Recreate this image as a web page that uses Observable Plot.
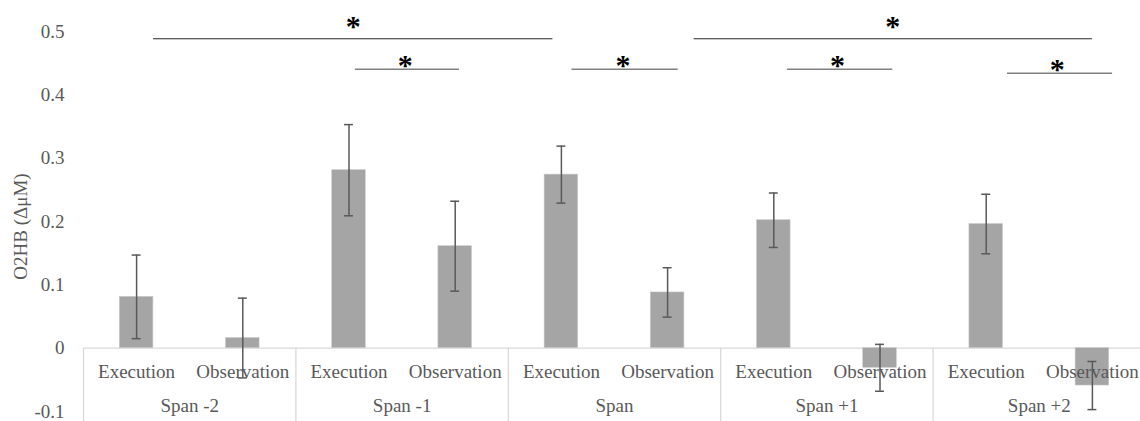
<!DOCTYPE html>
<html>
<head>
<meta charset="utf-8">
<script src="https://cdn.jsdelivr.net/npm/d3@7"></script>
<script src="https://cdn.jsdelivr.net/npm/@observablehq/plot@0.6"></script>
<style>
  html, body { margin: 0; padding: 0; background: #fff; }
  #chart svg { display: block; font-family: "Liberation Serif", "Times New Roman", serif !important; }
  #chart svg text { font-family: "Liberation Serif", "Times New Roman", serif; }
  #chart svg text.star { font-family: "DejaVu Sans", sans-serif; }
</style>
</head>
<body>
<div id="chart"></div>
<script>
// ---- data ----
const spans = ["Span -2", "Span -1", "Span", "Span +1", "Span +2"];
const conditions = ["Execution", "Observation"];
const execMean = [0.081, 0.281, 0.274, 0.202, 0.196];
const execErr  = [0.066, 0.072, 0.045, 0.043, 0.047];
const obsMean  = [0.016, 0.161, 0.088, -0.031, -0.059];
const obsErr   = [0.063, 0.071, 0.039, 0.037, 0.038];
const yTicks = [-0.1, 0, 0.1, 0.2, 0.3, 0.4, 0.5];
const yTickLabels = ["-0.1", "0", "0.1", "0.2", "0.3", "0.4", "0.5"];
const yLabel = "O2HB (\u0394\u03bcM)";
// significance brackets (x in slot units, y in data units)
const sigX1 = [0.66, 2.56, 4.60, 5.75, 6.63, 8.70];
const sigX2 = [4.42, 3.54, 5.60, 9.50, 7.62, 9.69];
const sigY  = [0.4885, 0.4405, 0.4405, 0.4885, 0.4405, 0.434];
const starX = [2.54, 3.03, 5.08, 7.62, 7.10, 9.17];
const starY = [0.508, 0.446, 0.446, 0.508, 0.446, 0.4405];
const sigTop = [true, false, false, true, false, false];

// ---- derived tables ----
const rows = spans.flatMap((s, g) => conditions.map((c, k) => ({
  span: s, cond: c, pos: g * 2 + k + 0.5,
  mean: k ? obsMean[g] : execMean[g],
  err: k ? obsErr[g] : execErr[g]
})));
rows.forEach(d => { d.lo = d.mean - d.err; d.hi = d.mean + d.err; });
const groups = spans.map((s, g) => ({span: s, pos: g * 2 + 1}));
const bounds = d3.range(spans.length + 1).map(g => g * 2);
const sig = sigX1.map((x1, i) => ({x1, x2: sigX2[i], y: sigY[i], sx: starX[i], sy: starY[i], top: sigTop[i]}));

const BAR_HALF = 0.158, CAP_HALF = 0.042;
const grey = "#595959", light = "#d9d9d9";
const serif = "Liberation Serif, Times New Roman, serif";

const chart = Plot.plot({
  width: 1140,
  height: 421,
  marginLeft: 83,
  marginRight: 0,
  marginTop: 31,
  marginBottom: 10,
  style: {fontFamily: serif, fontSize: "19px", color: grey, background: "#fff", overflow: "visible"},
  x: {domain: [0, 10], range: [83, 1145], axis: null},
  y: {domain: [-0.1, 0.5], axis: null},
  marks: [
    Plot.axisY(yTicks, {tickSize: 0, tickPadding: 19, tickFormat: (d, i) => yTickLabels[i], fontSize: 19, fontFamily: serif, label: null, fill: grey}),
    Plot.ruleY([0], {stroke: light, strokeWidth: 1.3}),
    Plot.ruleX(bounds, {x: d => d, y1: 0, y2: -0.1, insetBottom: -12, stroke: light, strokeWidth: 1.3}),
    Plot.rectY(rows, {x1: d => d.pos - BAR_HALF, x2: d => d.pos + BAR_HALF, y1: 0, y2: "mean", fill: "#a5a5a5", stroke: "#c8c8c8", strokeWidth: 0.6}),
    Plot.text(rows, {x: "pos", y: 0, text: "cond", lineAnchor: "bottom", dy: 30, fontSize: 19, fontFamily: serif, fill: grey}),
    Plot.text(groups, {x: "pos", y: 0, text: "span", lineAnchor: "bottom", dy: 64, fontSize: 19, fontFamily: serif, fill: grey}),
    Plot.ruleX(rows, {x: "pos", y1: "lo", y2: "hi", stroke: grey, strokeWidth: 1.5}),
    Plot.ruleY(rows, {y: "hi", x1: d => d.pos - CAP_HALF, x2: d => d.pos + CAP_HALF, stroke: grey, strokeWidth: 1.5}),
    Plot.ruleY(rows, {y: "lo", x1: d => d.pos - CAP_HALF, x2: d => d.pos + CAP_HALF, stroke: grey, strokeWidth: 1.5}),
    Plot.ruleY(sig, {y: "y", x1: "x1", x2: "x2", stroke: d => d.top ? "#262626" : "#808080", strokeWidth: d => d.top ? 1.1 : 1.5}),
    Plot.text(sig, {x: "sx", y: "sy", text: () => "*", className: "star", fontFamily: "DejaVu Sans, sans-serif", fontWeight: "bold", fontSize: 30, fill: "#000"}),
    Plot.text([yLabel], {frameAnchor: "left", textAnchor: "middle", lineAnchor: "middle", rotate: -90, dx: -63, dy: 5, fontSize: 19, fontFamily: serif, fill: grey})
  ]
});
document.getElementById("chart").appendChild(chart);
</script>
</body>
</html>
